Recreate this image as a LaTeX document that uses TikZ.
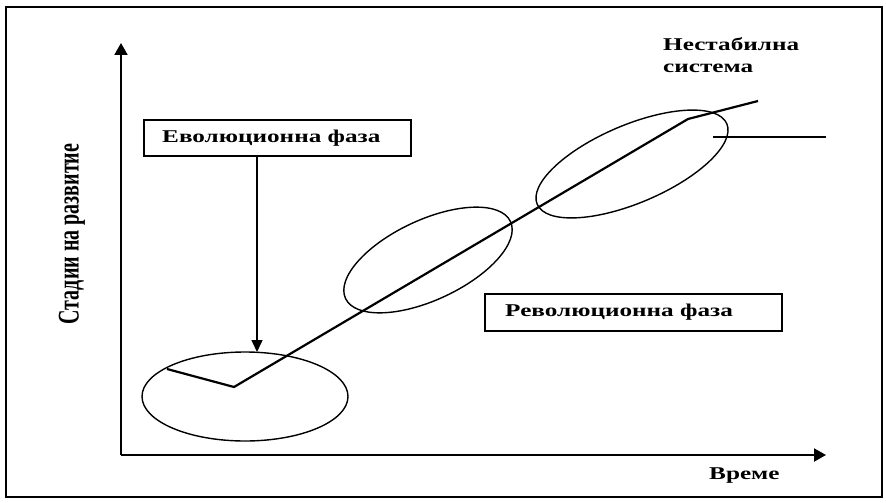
\documentclass[tikz,border=0pt]{standalone}
\usepackage{fontspec}
\setmainfont{Liberation Serif}
\usetikzlibrary{shapes.geometric,arrows.meta}
\newcommand{\hstr}[1]{\scalebox{1.4}[1]{#1}}
\newcommand{\vstr}[1]{\scalebox{1}[1.5]{#1}}
\tikzset{
  lbl/.style={font=\fontsize{18}{22}\selectfont\bfseries, inner sep=0pt},
  boxed/.style={draw, line width=1.5pt, inner sep=0pt, minimum height=36pt},
  oval/.style={draw, ellipse, line width=1.4pt, inner sep=0pt},
  thick line/.style={line width=2.2pt},
  axis/.style={line width=2pt, -{Triangle[width=13pt,length=12pt]}},
}
\begin{document}
\begin{tikzpicture}[x=1pt,y=-1pt]
\useasboundingbox (0,0) rectangle (886,503);
% frame
\draw[line width=2pt] (6,7) rectangle (882,497);
% axes
\coordinate (O) at (121,455);
\coordinate (ytop) at (121,43);
\coordinate (xend) at (826,455);
\draw[axis] (O) -- (ytop);
\draw[axis] (O) -- (xend);
% ellipses
\node[oval, minimum width=206pt, minimum height=89pt] (e1) at (245,396.5) {};
\node[oval, minimum width=182pt, minimum height=80pt, rotate=25] (e2) at (428,260) {};
\node[oval, minimum width=206pt, minimum height=78pt, rotate=23] (e3) at (632,164) {};
% development line
\coordinate (p0) at (167,369);
\coordinate (p1) at (234,387);
\coordinate (p2) at (688,119);
\coordinate (p3) at (758,101);
\draw[thick line, line join=miter] (p0) -- (p1) -- (p2) -- (p3);
\coordinate (h0) at (713,137);
\coordinate (h1) at (826,137);
\draw[thick line] (h0) -- (h1);
% boxes
\node[boxed, anchor=north west, minimum width=267pt] (evo) at (143,119) {};
\node[lbl, anchor=west] (evot) at (162,138) {\hstr{Еволюционна фаза}};
\node[boxed, anchor=north west, minimum width=297pt, minimum height=37pt] (rev) at (484,293) {};
\node[lbl, anchor=west] (revt) at (505,312) {\hstr{Революционна фаза}};
% arrow from evolution box to first ellipse
\coordinate (ea) at (257,155);
\coordinate (eb) at (257,352);
\draw[line width=1.5pt, -{Triangle[width=11pt,length=12pt]}] (ea) -- (eb);
% texts
\node[lbl, anchor=base west, align=left] (unst) at (663,73) {\hstr{Нестабилна}\\\hstr{система}};
\node[lbl, anchor=base west] (time) at (709,479) {\hstr{Време}};
\node[font=\fontsize{20}{24}\selectfont\bfseries, inner sep=0pt, rotate=90] (stages) at (72,234) {\vstr{Стадии на развитие}};
\end{tikzpicture}
\end{document}
